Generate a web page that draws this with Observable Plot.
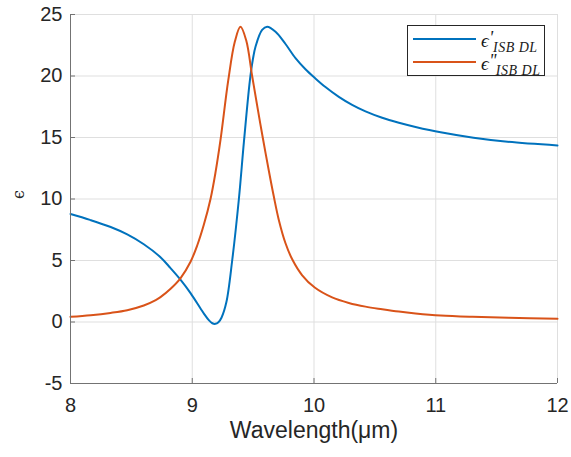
<!DOCTYPE html>
<html><head><meta charset="utf-8">
<script src="https://cdn.jsdelivr.net/npm/d3@7"></script>
<script src="https://cdn.jsdelivr.net/npm/@observablehq/plot@0.6"></script>
<style>
body{margin:0;background:#fff}
#wrap{position:relative;width:571px;height:457px}
#legend{position:absolute;left:0;top:0}
</style>
</head><body>
<div id="wrap"></div>
<script>
// ε' (real part)
const wlReal = [8.00, 8.16, 8.33, 8.466, 8.602, 8.739, 8.82, 8.903, 8.986, 9.068, 9.10, 9.136, 9.165, 9.19, 9.215, 9.24, 9.28, 9.328, 9.383, 9.424, 9.473, 9.497, 9.52, 9.574, 9.615, 9.684, 9.766, 9.848, 9.93, 10.006, 10.094, 10.204, 10.313, 10.423, 10.56, 10.697, 10.834, 11.04, 11.31, 11.59, 12.00];
const epsReal = [8.78, 8.30, 7.72, 7.12, 6.32, 5.27, 4.40, 3.45, 2.35, 1.10, 0.62, 0.15, -0.10, -0.15, -0.02, 0.35, 1.6, 5.0, 10.0, 14.6, 19.6, 21.3, 22.4, 23.75, 24.0, 23.6, 22.6, 21.45, 20.55, 19.85, 19.1, 18.3, 17.65, 17.12, 16.6, 16.2, 15.86, 15.42, 14.98, 14.65, 14.35];
// ε'' (imaginary part)
const wlImag = [8.00, 8.166, 8.329, 8.466, 8.602, 8.70, 8.739, 8.82, 8.903, 8.986, 9.04, 9.095, 9.15, 9.19, 9.232, 9.295, 9.35, 9.396, 9.443, 9.492, 9.54, 9.579, 9.629, 9.67, 9.711, 9.766, 9.821, 9.903, 10.006, 10.149, 10.286, 10.423, 10.56, 10.697, 10.834, 11.04, 11.30, 11.60, 12.00];
const epsImag = [0.42, 0.55, 0.74, 0.96, 1.34, 1.78, 2.02, 2.68, 3.55, 4.90, 6.2, 7.9, 10.0, 12.1, 14.8, 19.6, 22.8, 24.0, 22.9, 20.0, 17.2, 15.0, 12.3, 10.2, 8.3, 6.4, 5.1, 3.8, 2.8, 2.0, 1.55, 1.25, 1.04, 0.85, 0.70, 0.53, 0.42, 0.34, 0.27];

const xTicks = [8, 9, 10, 11, 12];
const yTicks = [-5, 0, 5, 10, 15, 20, 25];
const xLabel = "Wavelength(μm)";
const yLabel = "ϵ";
const seriesSymbol = "ϵ";
const seriesPrimes = ["'", "''"];
const subscriptText = "ISB DL";
const colors = ["#0072BD", "#D95319"];

const realPts = wlReal.map((w, i) => ({w, v: epsReal[i]}));
const imagPts = wlImag.map((w, i) => ({w, v: epsImag[i]}));

const axisColor = "#737373";
const gridColor = "#dfdfdf";

const chart = Plot.plot({
  width: 571, height: 457,
  marginLeft: 70, marginRight: 14, marginTop: 14, marginBottom: 74,
  x: {domain: [8, 12]},
  y: {domain: [-5, 25]},
  style: {fontFamily: "'Liberation Sans', Arial, sans-serif", fontSize: "20px", color: "#262626", background: "#fff"},
  marks: [
    Plot.gridX(xTicks, {stroke: gridColor, strokeOpacity: 1}),
    Plot.gridY(yTicks, {stroke: gridColor, strokeOpacity: 1}),
    Plot.axisX(xTicks, {tickSize: 0, tickPadding: 14, label: null, tickFormat: d => String(d), fill: "#262626"}),
    Plot.axisY(yTicks, {tickSize: 0, tickPadding: 8, label: null, tickFormat: d => String(d), fill: "#262626"}),
    Plot.line(realPts, {x: "w", y: "v", stroke: colors[0], strokeWidth: 2, curve: "catmull-rom"}),
    Plot.line(imagPts, {x: "w", y: "v", stroke: colors[1], strokeWidth: 2, curve: "catmull-rom"}),
    Plot.ruleX([8], {stroke: axisColor}),
    Plot.ruleY([-5], {stroke: axisColor}),
    Plot.tickY(yTicks, {stroke: axisColor, insetRight: 482}),
    Plot.tickX(xTicks, {stroke: axisColor, insetTop: 364}),
    Plot.text([xLabel], {frameAnchor: "bottom", dy: 54, fontSize: 23, fill: "#262626"}),
    Plot.text([yLabel], {frameAnchor: "left", dx: -52, rotate: -90, fontSize: 16, fill: "#262626", fontFamily: "'DejaVu Serif', serif"})
  ]
});
const wrap = document.getElementById("wrap");
wrap.append(chart);

// Legend
const ns = "http://www.w3.org/2000/svg";
const lg = document.createElementNS(ns, "svg");
lg.setAttribute("id", "legend");
lg.setAttribute("width", 571);
lg.setAttribute("height", 457);
const box = document.createElementNS(ns, "rect");
box.setAttribute("x", 407.5); box.setAttribute("y", 25.5);
box.setAttribute("width", 137); box.setAttribute("height", 50);
box.setAttribute("fill", "#fff"); box.setAttribute("stroke", "#262626"); box.setAttribute("stroke-width", 1);
lg.append(box);
const rows = [{ly: 39, base: 47}, {ly: 62, base: 70}];
const serif = "'Liberation Serif', 'DejaVu Serif', serif";
rows.forEach((r, i) => {
  const l = document.createElementNS(ns, "line");
  l.setAttribute("x1", 413); l.setAttribute("x2", 476);
  l.setAttribute("y1", r.ly); l.setAttribute("y2", r.ly);
  l.setAttribute("stroke", colors[i]); l.setAttribute("stroke-width", 2.2);
  lg.append(l);
  const t = document.createElementNS(ns, "text");
  t.setAttribute("x", 481); t.setAttribute("y", r.base);
  t.setAttribute("font-family", serif);
  t.setAttribute("font-style", "italic");
  t.setAttribute("fill", "#1a1a1a");
  const s1 = document.createElementNS(ns, "tspan");
  s1.setAttribute("font-size", 19); s1.textContent = seriesSymbol;
  const s2 = document.createElementNS(ns, "tspan");
  s2.setAttribute("font-size", 18); s2.setAttribute("dy", -3.5); s2.setAttribute("dx", 0.5);
  s2.setAttribute("letter-spacing", -0.5);
  s2.textContent = seriesPrimes[i];
  const s3 = document.createElementNS(ns, "tspan");
  s3.setAttribute("font-size", 14); s3.setAttribute("dy", 8.5); s3.setAttribute("dx", i === 0 ? 0.5 : 0);
  s3.setAttribute("letter-spacing", 0.5);
  s3.textContent = subscriptText;
  t.append(s1, s2, s3);
  lg.append(t);
});
wrap.append(lg);
</script>
</body></html>
